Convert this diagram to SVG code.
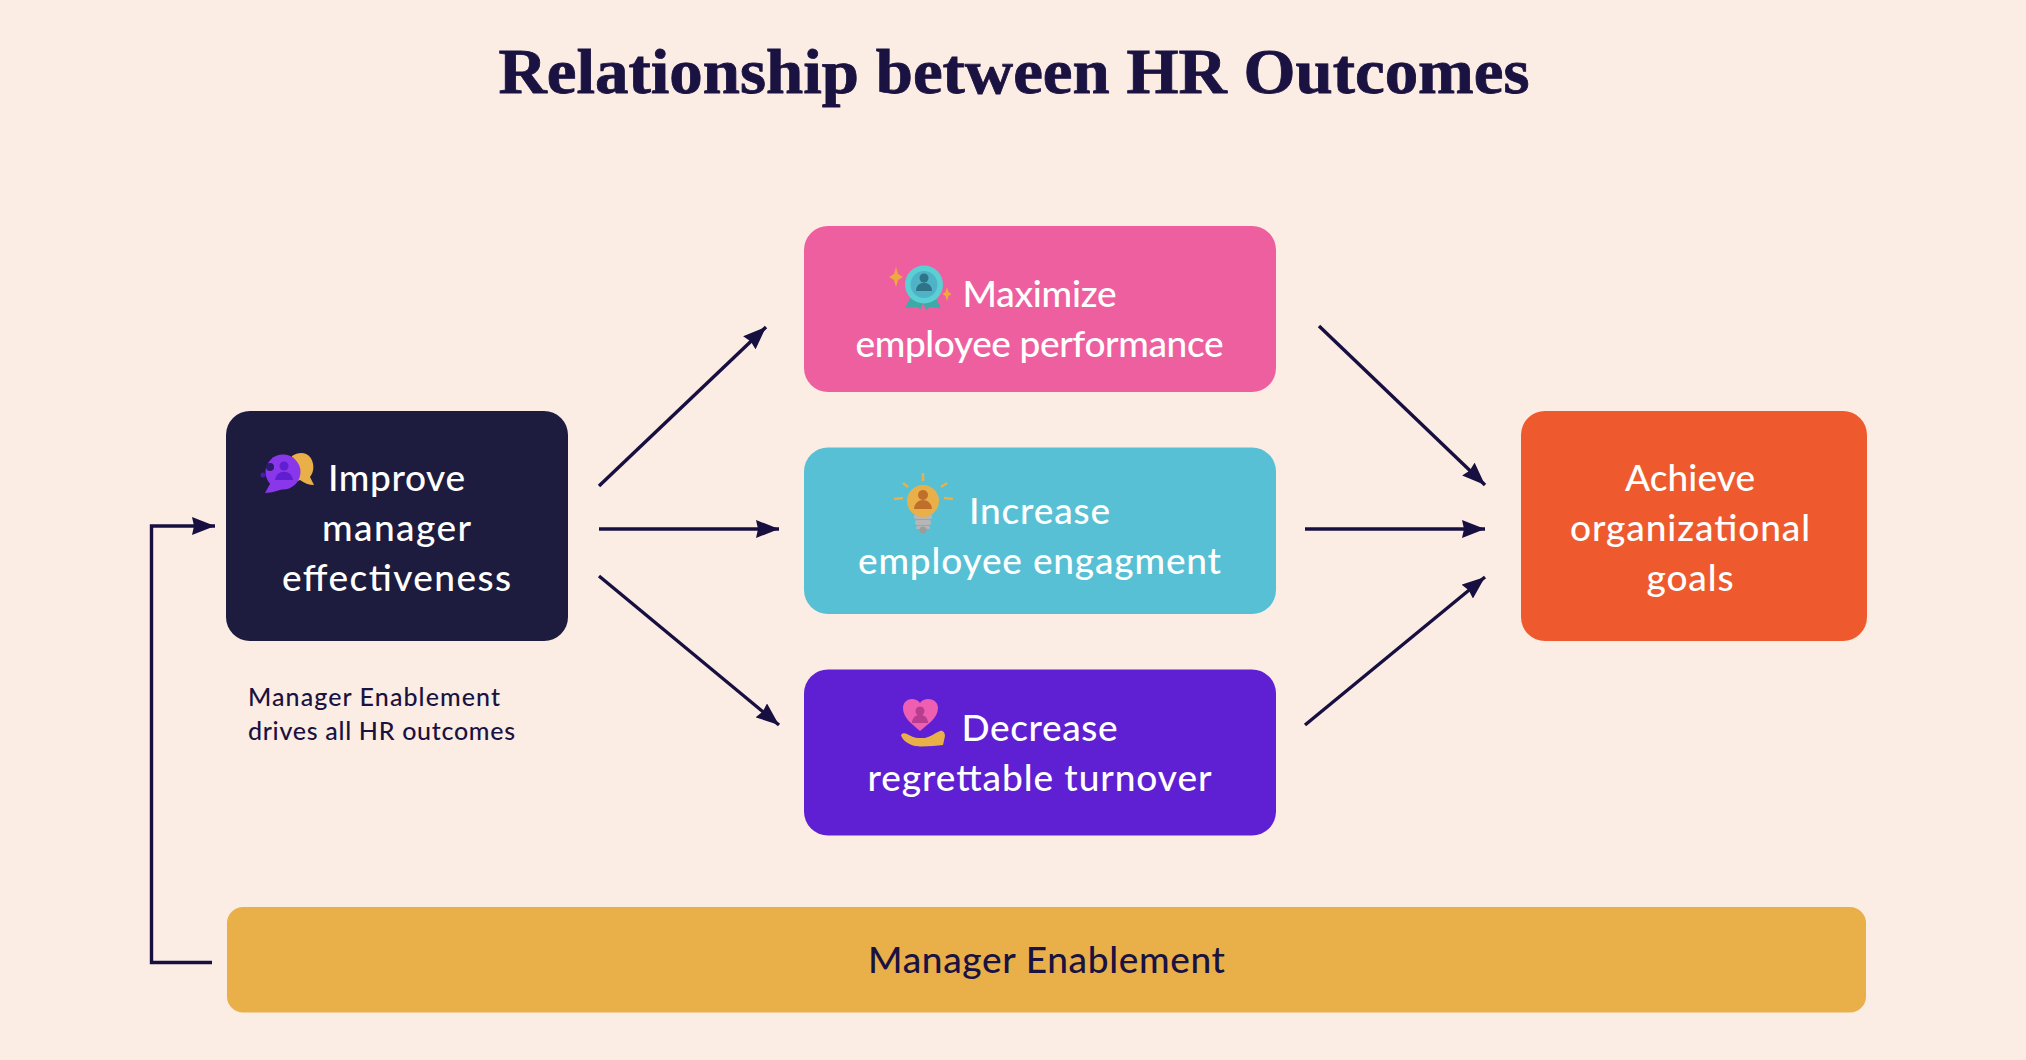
<svg xmlns="http://www.w3.org/2000/svg" width="2026" height="1060" viewBox="0 0 2026 1060">
<style>
.t{font-family:"Lato","Noto Sans",sans-serif;font-size:37px;fill:#fff;text-anchor:middle;font-weight:500}
.title{font-family:"Liberation Serif",serif;font-weight:700;font-size:63px;fill:#1a1240;text-anchor:middle;stroke:#1a1240;stroke-width:.8}
.note{font-family:"Lato","Noto Sans",sans-serif;font-size:25px;fill:#1a1240;font-weight:500}
.c{fill:none;stroke:#170f40;stroke-width:3.4}
</style>
<defs>
<marker id="a" markerUnits="userSpaceOnUse" markerWidth="24" markerHeight="18" refX="23" refY="9" orient="auto"><path d="M0 0L23 9L0 18L2 9Z" fill="#170f40"/></marker>
</defs>
<rect width="2026" height="1060" fill="#fcede4"/>
<text class="title" x="1014" y="93" textLength="1031" lengthAdjust="spacingAndGlyphs">Relationship between HR Outcomes</text>
<g id="connectors">
<path class="c" d="M599 486L766 327" marker-end="url(#a)"/>
<path class="c" d="M599 529H779" marker-end="url(#a)"/>
<path class="c" d="M599 576L779 725" marker-end="url(#a)"/>
<path class="c" d="M1319 326L1485 485" marker-end="url(#a)"/>
<path class="c" d="M1305 529H1485" marker-end="url(#a)"/>
<path class="c" d="M1305 725L1485 577" marker-end="url(#a)"/>
<path class="c" d="M212 962.500H151.500V526H215" marker-end="url(#a)"/>
</g>
<g id="node-manager">
<rect x="226" y="411" width="342" height="230" rx="24" fill="#1d1b3e"/>
<path d="M292 456c6-4 14-4 18 1 4 5 5 14 0 20l4 8c-5 0-10-2-14-5-5 2-9 2-12 0Z" fill="#e9b04a"/>
<circle cx="283" cy="472" r="17.500" fill="#8a36ea"/>
<path d="M271 482l-6 11c7 0 15-3 20-5Z" fill="#8a36ea"/>
<circle cx="284" cy="466" r="4.500" fill="#5f1fd0"/>
<path d="M275 480c1-11 17-11 18 0Z" fill="#5f1fd0"/>
<circle cx="270" cy="467" r="4" fill="#2b1a6e"/><circle cx="263" cy="475" r="2.500" fill="#4a1fa8"/>
<text class="t" x="396.500" y="491" textLength="137">Improve</text>
<text class="t" x="396.500" y="541" textLength="149">manager</text>
<text class="t" x="396.500" y="591" textLength="229">effectiveness</text>
</g>
<text class="note" x="248" y="706" textLength="252">Manager Enablement</text>
<text class="note" x="248" y="740" textLength="267">drives all HR outcomes</text>
<g id="node-performance">
<rect x="804" y="226" width="472" height="166" rx="24" fill="#ee5f9f"/>
<path d="M896 267l2 7 5 3-5 3-2 7-2-7-5-3 5-3Z" fill="#eea93f"/>
<path d="M947 287l1.500 5 3 2-3 2-1.500 5-1.500-5-3-2 3-2Z" fill="#eea93f"/>
<path d="M912 295l-7 13 11-1 5 2 4-12ZM934 295l7 13-11-1-4 3-5-13Z" fill="#3fa9a8"/>
<circle cx="924" cy="284.500" r="19" fill="#5bd0d4"/>
<circle cx="924" cy="284.500" r="13.500" fill="#4fb2c6"/>
<circle cx="924" cy="278" r="4.500" fill="#2f7387"/>
<path d="M916 291c0-11 16-11 16 0Z" fill="#2f7387"/>
<text class="t" x="1039.500" y="307" textLength="154">Maximize</text>
<text class="t" x="1039.500" y="357" textLength="368">employee performance</text>
</g>
<g id="node-engagement">
<rect x="804" y="447.500" width="472" height="166.500" rx="24" fill="#58c0d4"/>
<path d="M923 473v8M903 483l5 4M947 483l-6 4M894 499l9-1M944 498l9 1" stroke="#e9b04a" stroke-width="2.500" fill="none"/>
<rect x="914" y="514" width="18" height="5" rx="2" fill="#b6b6b6"/>
<rect x="915" y="520" width="16" height="5" rx="2" fill="#b6b6b6"/>
<rect x="916" y="526" width="14" height="3" rx="1.500" fill="#b6b6b6"/>
<circle cx="923" cy="530" r="3.500" fill="#9c9c9c"/>
<circle cx="923" cy="501" r="16" fill="#e9b04a"/>
<circle cx="923" cy="495" r="5" fill="#bf6f2a"/>
<path d="M914 509c1-12 17-12 18 0Z" fill="#bf6f2a"/>
<text class="t" x="1039.500" y="524" textLength="141">Increase</text>
<text class="t" x="1039.500" y="574" textLength="363">employee engagment</text>
</g>
<g id="node-turnover">
<rect x="804" y="669.500" width="472" height="166" rx="24" fill="#5f1fd2"/>
<path d="M920 731c-8-7-17-13-17-23 0-6 5-9 9-9 3 0 6 1 8 4 2-3 5-4 8-4 5 0 10 3 10 9 0 10-10 16-18 23Z" fill="#ee5fb2"/>
<circle cx="920" cy="711" r="4.500" fill="#b83d90"/>
<path d="M912 723c0-11 16-11 16 0Z" fill="#b83d90"/>
<path d="M901 735c1-2 4-2 6-1 4 2 7 4 12 4h6c5-1 10-5 15-7 3-1 5 2 5 5l-2 9c-8 1-22 2-28 1-7-2-13-6-14-11Z" fill="#e9b04a"/>
<text class="t" x="1039.500" y="741" textLength="156">Decrease</text>
<text class="t" x="1039.500" y="791" textLength="344">regrettable turnover</text>
</g>
<g id="node-goals">
<rect x="1521" y="411" width="346" height="230" rx="24" fill="#ee5a2e"/>
<text class="t" x="1690" y="491" textLength="130">Achieve</text>
<text class="t" x="1690" y="541" textLength="240">organizational</text>
<text class="t" x="1690" y="591" textLength="87">goals</text>
</g>
<g id="node-enablement">
<rect x="227" y="907" width="1639" height="105.500" rx="16" fill="#e9b04a"/>
<text class="t" x="1046.500" y="973" textLength="357" style="fill:#1a1240">Manager Enablement</text>
</g>
</svg>
